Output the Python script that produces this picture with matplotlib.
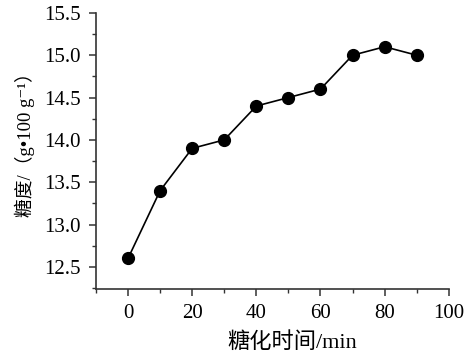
import matplotlib
matplotlib.use("Agg")
import matplotlib.pyplot as plt
from matplotlib.ticker import MultipleLocator

# saccharification time (min) vs sugar content
time_min = [0, 10, 20, 30, 40, 50, 60, 70, 80, 90]
sugar = [12.6, 13.4, 13.9, 14.0, 14.4, 14.5, 14.6, 15.0, 15.1, 15.0]

xlabel = "糖化时间/min"
ylabel = "糖度/（g•100 g⁻¹）"

fonts = ["Liberation Serif", "Noto Sans CJK SC", "DejaVu Sans"]
plt.rcParams["font.family"] = fonts

fig = plt.figure(figsize=(4.68, 3.58), dpi=100)
ax = fig.add_axes([0.205, 0.193, 0.754, 0.771])

ax.plot(time_min, sugar, color="black", lw=1.2, marker="o", ms=8.5)

ax.set_xlim(-10, 100)
ax.set_ylim(12.24, 15.5)
ax.xaxis.set_major_locator(MultipleLocator(20))
ax.xaxis.set_minor_locator(MultipleLocator(10))
ax.yaxis.set_major_locator(MultipleLocator(0.5))
ax.yaxis.set_minor_locator(MultipleLocator(0.25))
ax.yaxis.set_major_formatter(plt.FormatStrFormatter("%.1f"))

for s in ["top", "right"]:
    ax.spines[s].set_visible(False)
for s in ["left", "bottom"]:
    ax.spines[s].set_linewidth(1.2)
    ax.spines[s].set_color("#333333")

ax.tick_params(which="major", direction="out", length=5, width=1.1,
               color="#333333", labelsize=15, pad=6)
ax.tick_params(which="minor", direction="out", length=3, width=1.0,
               color="#333333")

fig.text(292 / 468, 1 - 343 / 358, xlabel, ha="center", va="center",
         fontsize=16)
fig.text(25 / 468, 1 - 140 / 358, ylabel, ha="center", va="center",
         rotation=90, fontsize=13.5)

fig.savefig("out.png", dpi=100)
